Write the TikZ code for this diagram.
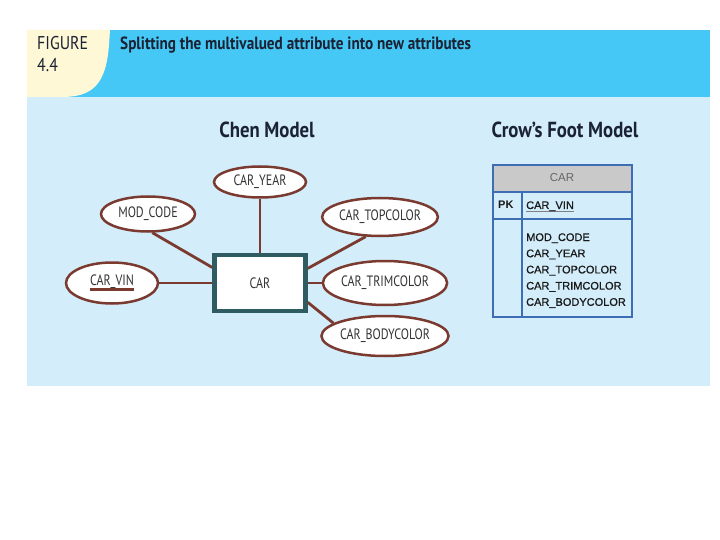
\documentclass[tikz,border=0pt]{standalone}
\usepackage{fontspec}
\setmainfont{PT Sans}
\newfontfamily\cond[FakeStretch=0.8]{PT Sans}
\newfontfamily\headfont[FakeStretch=0.86]{PT Sans}
\newfontfamily\arial{Liberation Sans}
\newfontfamily\arialmed[FakeBold=0.8]{Liberation Sans}
\usetikzlibrary{shapes.geometric}
\definecolor{headblue}{HTML}{45C8F5}
\definecolor{panelblue}{HTML}{D3EEFA}
\definecolor{cream}{HTML}{FEF8D6}
\definecolor{chenbrown}{HTML}{7A3A30}
\definecolor{boxteal}{HTML}{2E5C60}
\definecolor{tabblue}{HTML}{3D6DB3}
\definecolor{tabgray}{HTML}{C9C9C9}
\definecolor{inknavy}{HTML}{1B2233}
\newcommand\chenkey[1]{\setbox0\hbox{#1}\rlap{\color{chenbrown}\rule[-5pt]{\wd0}{2.4pt}}\box0}
\newcommand\tabkey[1]{\setbox0\hbox{#1}\rlap{\color{gray}\rule[-3pt]{\wd0}{1.4pt}}\box0}
\tikzset{
  attr/.style={ellipse,draw=chenbrown,line width=2.5pt,fill=white,inner sep=0pt,
    font=\cond\fontsize{15}{15}\selectfont,text=black!80},
  link/.style={draw=chenbrown,line width=2.8pt},
  tabtext/.style={anchor=base west,inner sep=0pt,font=\arialmed\fontsize{11}{11}\selectfont,text=black!90},
  heading/.style={inner sep=0pt,font=\headfont\bfseries\fontsize{21.8}{21.8}\selectfont,text=inknavy}
}
\begin{document}
\begin{tikzpicture}[x=1pt,y=-1pt]
\useasboundingbox (0,0) rectangle (720,540);
% panel and heading
\fill[panelblue] (27,97) rectangle (710,386);
\fill[headblue] (27,30) rectangle (710,97);
\fill[cream] (27,30) -- (110,30) -- (109,45) .. controls (106,85) and (92,97) .. (62,97) -- (27,97) -- cycle;
\node[anchor=base west,inner sep=0pt,font=\headfont\fontsize{18.5}{18.5}\selectfont,text=inknavy] (fig) at (37,50) {FIGURE};
\node[anchor=base west,inner sep=0pt,font=\headfont\fontsize{18.5}{18.5}\selectfont,text=inknavy] (num) at (37,72) {4.4};
\node[anchor=base west,inner sep=0pt,font=\headfont\bfseries\fontsize{17.7}{17.7}\selectfont,text=inknavy] (title) at (120,50) {Splitting the multivalued attribute into new attributes};
\node[heading] (chen) at (267,130) {Chen Model};
\node[heading] (crow) at (565,130) {Crow’s Foot Model};
% Chen model
\node[draw=boxteal,line width=4.5pt,fill=white,minimum width=91,minimum height=56,
  font=\cond\fontsize{15}{15}\selectfont,text=black!80] (C) at (260,283) {CAR};
\node[attr,minimum width=92,minimum height=31] (Y) at (260,182) {CAR\_YEAR};
\node[attr,minimum width=94,minimum height=35] (M) at (148,214) {MOD\_CODE};
\node[attr,minimum width=112,minimum height=38] (T) at (380,217) {CAR\_TOPCOLOR};
\node[attr,minimum width=92,minimum height=41] (V) at (112,283) {\chenkey{CAR\_VIN}};
\node[attr,minimum width=120,minimum height=44] (R) at (385,283) {CAR\_TRIMCOLOR};
\node[attr,minimum width=121,minimum height=40] (B) at (385,336) {CAR\_BODYCOLOR};
\path[link]
  (Y) edge[link] (C)
  (M.283) edge[link] (C.162)
  (T.234) edge[link] (C.17)
  (V) edge[link] (C)
  (R) edge[link] (C)
  (B.166) edge[link] (C.338)
;
% Crow's Foot model
\fill[tabgray] (493,165) rectangle (632,192);
\draw[tabblue,line width=1.8pt] (493,165) rectangle (632,317);
\draw[tabblue,line width=1.2pt] (493,192) -- (632,192) (493,219) -- (632,219) (522,192) -- (522,317);
\node[font=\arial\fontsize{11.5}{11.5}\selectfont,text=black!60] (ent) at (562,178) {CAR};
\node[tabtext,font=\arial\bfseries\fontsize{11}{11}\selectfont] (pk) at (498,209) {PK};
\node[tabtext] (vin) at (526,209) {\tabkey{CAR\_VIN}};
\foreach \a [count=\i] in {MOD\_CODE,CAR\_YEAR,CAR\_TOPCOLOR,CAR\_TRIMCOLOR,CAR\_BODYCOLOR}
  \node[tabtext] (a\i) at (526,{241+16.2*(\i-1)}) {\a};
\end{tikzpicture}
\end{document}
